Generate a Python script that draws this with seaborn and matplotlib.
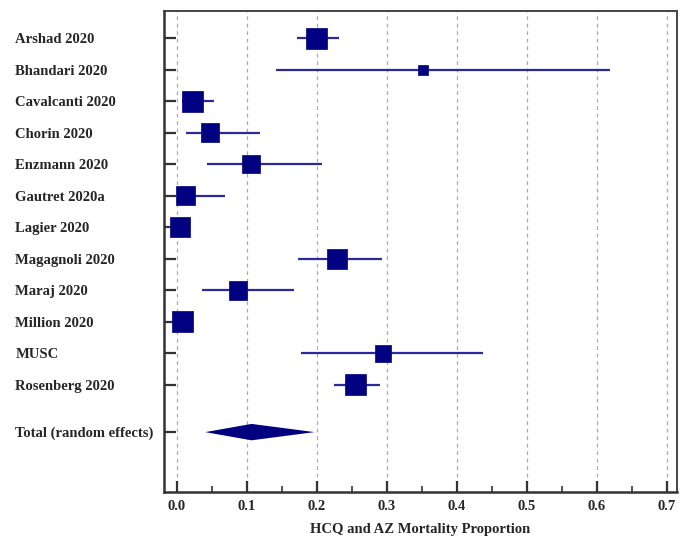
import numpy as np
import pandas as pd
import matplotlib
matplotlib.use("Agg")
import matplotlib.pyplot as plt
import seaborn as sns

# study estimates
studies = ["Arshad 2020", "Bhandari 2020", "Cavalcanti 2020", "Chorin 2020",
           "Enzmann 2020", "Gautret 2020a", "Lagier 2020", "Magagnoli 2020",
           "Maraj 2020", "Million 2020", "MUSC", "Rosenberg 2020"]
proportion = [0.200, 0.352, 0.023, 0.048, 0.106, 0.013, 0.005, 0.229,
              0.088, 0.008, 0.295, 0.256]
ci_low = [0.172, 0.142, 0.008, 0.013, 0.043, 0.003, 0.001, 0.173,
          0.037, 0.003, 0.178, 0.225]
ci_high = [0.232, 0.619, 0.054, 0.119, 0.207, 0.069, 0.017, 0.293,
           0.167, 0.018, 0.438, 0.291]
weights = [9.0, 2.0, 9.0, 7.0, 7.0, 7.0, 8.5, 8.5, 7.0, 9.0, 5.5, 9.0]

total_label = "Total (random effects)"
total_est = 0.107
total_low = 0.041
total_high = 0.197

x_ticks = [0.0, 0.1, 0.2, 0.3, 0.4, 0.5, 0.6, 0.7]

sns.set_theme(style="white")
plt.rcParams["font.family"] = ["Liberation Serif", "DejaVu Serif"]
plt.rcParams["font.weight"] = "bold"

navy = "#000080"
line_col = "#2a2a9c"

df = pd.DataFrame({"study": studies, "p": proportion, "lo": ci_low,
                   "hi": ci_high, "w": weights})
df["row"] = np.arange(len(df))
total_row = len(df) + 0.5

fig = plt.figure(figsize=(6.85, 5.48), dpi=100)
ax = fig.add_axes([0.2394, 0.1022, 0.7489, 0.8777])

for xt in x_ticks:
    ax.axvline(xt, color="#aaaaaa", lw=0.9, ls=(0, (3, 3)), zorder=0)

ax.hlines(df["row"], df["lo"], df["hi"], color=line_col, lw=1.6, zorder=2)

# square side (points) grows with sqrt of weight
side_pt = 7.0 * 0.72 * np.sqrt(df["w"])
sns.scatterplot(data=df, x="p", y="row", marker="s", color=navy,
                s=side_pt ** 2, edgecolor=navy, linewidth=0.5,
                legend=False, ax=ax, zorder=3)

half_h = 0.26
ax.fill([total_low, total_est, total_high, total_est],
        [total_row, total_row - half_h, total_row, total_row + half_h],
        color=navy, lw=0, zorder=3)

ax.set_xlim(-0.018, 0.7147)
ax.set_ylim(total_row + 1.9, -0.86)

ax.set_xticks(x_ticks)
ax.set_xticklabels([f"{v:.1f}" for v in x_ticks], fontsize=10.5, fontweight="bold")
ax.set_xticks(np.arange(0.05, 0.7, 0.1), minor=True)
ax.tick_params(axis="x", which="major", direction="in", length=8, width=1.6,
               color="#333333", pad=6, bottom=True)
ax.tick_params(axis="x", which="minor", direction="in", length=4, width=1.2,
               color="#333333", bottom=True)

ax.set_yticks(list(df["row"]) + [total_row])
ax.set_yticklabels(studies + [total_label], fontsize=10.5, fontweight="bold")
for lab in ax.get_yticklabels():
    lab.set_horizontalalignment("left")
ax.tick_params(axis="y", direction="in", length=8.5, width=1.6,
               color="#333333", pad=107, left=True)

ax.set_xlabel("HCQ and AZ Mortality Proportion", fontsize=10.5,
              fontweight="bold", labelpad=7)
ax.set_ylabel("")

for side in ["left", "bottom"]:
    ax.spines[side].set_color("#333333")
    ax.spines[side].set_linewidth(1.8)
for side in ["top", "right"]:
    ax.spines[side].set_color("#444444")
    ax.spines[side].set_linewidth(1.4)

fig.savefig("out.png", dpi=100)
